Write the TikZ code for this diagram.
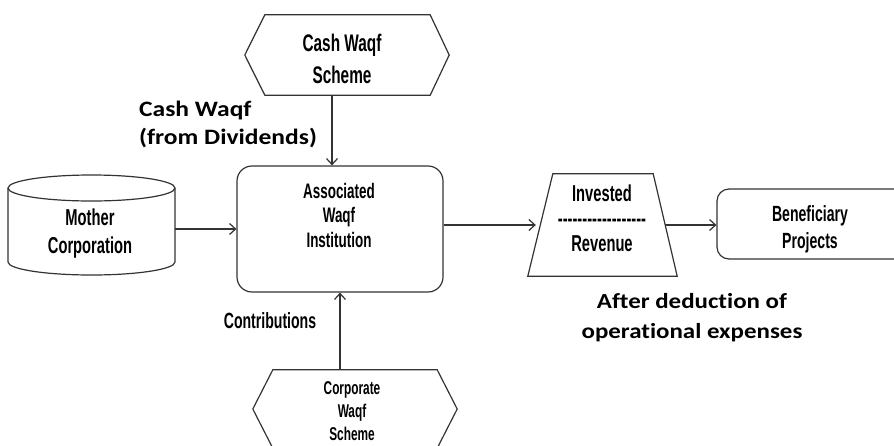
\documentclass[tikz,border=0pt]{standalone}
\usepackage{fontspec}
\usetikzlibrary{arrows.meta}
\newfontfamily\condfont[FakeStretch=0.64]{Liberation Sans}
\newfontfamily\conddash[FakeStretch=0.64,Ligatures=TeXOff]{Liberation Sans}
\newfontfamily\calfont[FakeStretch=1.16,Ligatures=NoCommon]{Carlito}
\tikzset{
  line/.style={draw=black!80, line width=1.2pt},
  flow/.style={line, -{Straight Barb[length=6pt,width=11pt]}},
  ghost/.style={inner sep=0pt, draw=none},
  lbl/.style={inner sep=0pt, align=center},
  cond/.style 2 args={lbl, font=\condfont\bfseries\fontsize{#1}{#2}\selectfont},
  note/.style={inner sep=0pt, font=\calfont\bfseries\fontsize{22}{28}\selectfont}
}
\begin{document}
\begin{tikzpicture}[x=1pt,y=-1pt]
\useasboundingbox (0,0) rectangle (894,445);
\clip (0,0) rectangle (894,445);
\fill[white] (0,0) rectangle (894,445);

% cash waqf scheme (top hexagon)
\node[ghost, minimum width=204pt, minimum height=80pt] (cws) at (347,55) {};
\draw[line] (cws.west) -- ([xshift=20pt]cws.north west) -- ([xshift=-19pt]cws.north east)
  -- (cws.east) -- ([xshift=-19pt]cws.south east) -- ([xshift=20pt]cws.south west) -- cycle;
\node[cond={24}{32}] (cwstxt) at (342,59) {Cash Waqf\\Scheme};

% associated waqf institution
\node[line, rounded corners=15pt, minimum width=206pt, minimum height=126pt] (awi) at (340,229) {};
\node[cond={21}{24.5}] (awitxt) at (339,215) {Associated\\Waqf\\Institution};

% mother corporation (cylinder)
\node[ghost, minimum width=167pt, minimum height=100pt] (mc) at (91.5,225) {};
\draw[line] (8,188) -- (8,262) arc[start angle=180, end angle=0, x radius=83.5, y radius=13] -- (175,188);
\draw[line] (91.5,188) ellipse[x radius=83.5, y radius=13];
\node[cond={23}{28}] (mctxt) at (90,234) {Mother\\Corporation};

% invested / revenue (trapezium)
\node[ghost, minimum width=149pt, minimum height=102pt] (iv) at (602.5,225) {};
\draw[line] (iv.south west) -- ([xshift=25pt]iv.north west) -- ([xshift=-24pt]iv.north east)
  -- (iv.south east) -- cycle;
\node[cond={23}{25}] (ivtxt) at (602,218) {Invested\\{\conddash ------------------}\\Revenue};

% beneficiary projects
\node[line, rounded corners=12pt, minimum width=200pt, minimum height=70pt] (bp) at (817,224) {};
\node[cond={22}{27}] (bptxt) at (810,229) {Beneficiary\\Projects};

% corporate waqf scheme (bottom hexagon)
\node[ghost, minimum width=204pt, minimum height=78pt] (cwsb) at (355,409) {};
\draw[line] (cwsb.west) -- ([xshift=20pt]cwsb.north west) -- ([xshift=-20pt]cwsb.north east)
  -- (cwsb.east) -- ([xshift=-20pt]cwsb.south east) -- ([xshift=20pt]cwsb.south west) -- cycle;
\node[cond={18.5}{23}] (cwsbtxt) at (352,411) {Corporate\\Waqf\\Scheme};

% free labels
\node[note, anchor=west, align=left] (divlbl) at (139,124) {Cash Waqf\\(from Dividends)};
\node[cond={22}{25}] (contlbl) at (270,321) {Contributions};
\node[note, align=center, font=\calfont\bfseries\fontsize{21.5}{30}\selectfont] (dedlbl) at (692,318) {After deduction of\\operational expenses};

% connectors
\draw[flow] ([xshift=-8pt]awi.north |- cws.south) -- ([xshift=-8pt]awi.north);
\draw[flow] (awi.west -| mc.east) -- (awi.west);
\draw[flow] (cwsb.north -| awi.south) -- (awi.south);
\draw[flow] (awi.east |- iv.west) -- ([xshift=8pt]iv.west);
\draw[flow] ([xshift=-12pt]iv.east) -- (bp.west |- iv.east);
\end{tikzpicture}
\end{document}
